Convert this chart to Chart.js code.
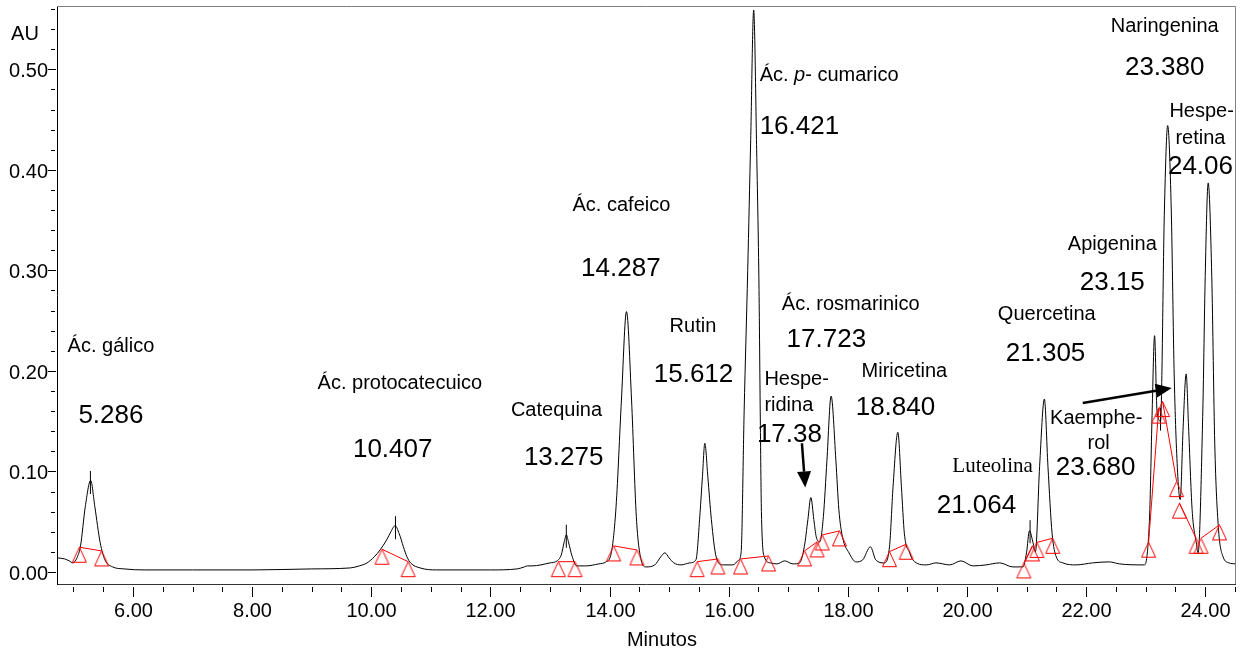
<!DOCTYPE html>
<html>
<head>
<meta charset="utf-8">
<script src="https://cdn.jsdelivr.net/npm/chart.js@4.4.1/dist/chart.umd.min.js"></script>
<style>
  html, body { margin: 0; padding: 0; background: #fff; }
  #wrap { width: 1246px; height: 656px; position: relative; }
</style>
</head>
<body>
<div id="wrap"><canvas id="chromatogram"></canvas></div>
<script>
// trace: time (min) and absorbance (AU)
var minutes = [
  4.73, 4.85, 4.93, 4.99, 5.06, 5.12, 5.20, 5.29, 5.36, 5.45, 5.53, 5.66, 5.85, 6.20, 7.00, 8.00, 9.00,
  9.65, 9.80, 9.93, 10.05, 10.15, 10.26, 10.33, 10.40, 10.47, 10.54, 10.60, 10.66, 10.82, 11.10, 12.00,
  12.45, 12.57, 12.62, 12.70, 13.00, 13.12, 13.19, 13.24, 13.275, 13.31, 13.37, 13.45, 13.60, 13.82, 13.94,
  14.03, 14.11, 14.20, 14.285, 14.37, 14.45, 14.53, 14.61, 14.76, 14.86, 14.93, 15.00, 15.08, 15.20, 15.35,
  15.45, 15.52, 15.56, 15.60, 15.65, 15.71, 15.79, 15.90, 16.07, 16.17, 16.21, 16.26, 16.32, 16.37, 16.42,
  16.47, 16.51, 16.53, 16.55, 16.60, 16.70, 16.81, 16.94, 17.08, 17.19, 17.27, 17.33, 17.38, 17.43, 17.47,
  17.53, 17.59, 17.65, 17.72, 17.80, 17.85, 17.91, 18.02, 18.14, 18.25, 18.38, 18.47, 18.61, 18.70, 18.76,
  18.84, 18.90, 18.95, 19.04, 19.09, 19.32, 19.48, 19.71, 19.90, 20.10, 20.32, 20.55, 20.77, 20.94, 21.00,
  21.05, 21.11, 21.15, 21.22, 21.30, 21.36, 21.43, 21.50, 21.61, 21.83, 22.11, 22.39, 22.56, 22.98, 23.03,
  23.07, 23.11, 23.15, 23.19, 23.25, 23.315, 23.37, 23.43, 23.48, 23.54, 23.58, 23.63, 23.68, 23.72, 23.78,
  23.85, 23.88, 23.96, 24.00, 24.05, 24.11, 24.16, 24.22, 24.30, 24.40, 24.50
];
var absorbance = [
  0.014, 0.013, 0.011, 0.009, 0.014, 0.026, 0.065, 0.091, 0.065, 0.029, 0.012, 0.005, 0.003, 0.002, 0.002, 0.002, 0.003,
  0.004, 0.006, 0.009, 0.015, 0.022, 0.032, 0.040, 0.046, 0.038, 0.025, 0.015, 0.009, 0.004, 0.002, 0.002,
  0.003, 0.005, 0.006, 0.006, 0.009, 0.011, 0.017, 0.030, 0.037, 0.030, 0.016, 0.006, 0.006, 0.008, 0.010,
  0.019, 0.065, 0.171, 0.259, 0.171, 0.055, 0.012, 0.005, 0.007, 0.015, 0.019, 0.014, 0.009, 0.007, 0.009,
  0.012, 0.059, 0.095, 0.128, 0.095, 0.052, 0.015, 0.007, 0.007, 0.012, 0.020, 0.160, 0.300, 0.430, 0.559,
  0.420, 0.280, 0.160, 0.060, 0.015, 0.009, 0.008, 0.011, 0.008, 0.009, 0.025, 0.052, 0.074, 0.052, 0.035,
  0.030, 0.055, 0.111, 0.175, 0.111, 0.062, 0.035, 0.019, 0.010, 0.012, 0.025, 0.012, 0.009, 0.025, 0.085,
  0.139, 0.085, 0.038, 0.019, 0.012, 0.007, 0.009, 0.007, 0.011, 0.006, 0.007, 0.009, 0.005, 0.005, 0.019,
  0.041, 0.029, 0.020, 0.105, 0.172, 0.105, 0.038, 0.015, 0.009, 0.007, 0.009, 0.010, 0.008, 0.007, 0.020,
  0.062, 0.161, 0.235, 0.161, 0.150, 0.360, 0.444, 0.360, 0.194, 0.095, 0.072, 0.145, 0.197, 0.145, 0.062,
  0.029, 0.019, 0.161, 0.294, 0.387, 0.294, 0.128, 0.045, 0.015, 0.009, 0.008
];

// integration baselines (start / end of each peak)
var baseStartX = [5.10, 10.18, 13.14, 14.07, 15.47, 16.20, 17.275, 17.57, 18.70, 20.955, 21.175, 23.05, 23.285, 23.567, 23.93];
var baseStartY = [0.0246, 0.0226, 0.0102, 0.0259, 0.0102, 0.0129, 0.0209, 0.0368, 0.0202, 0.009, 0.0294, 0.0296, 0.1695, 0.0684, 0.0335];
var baseEndX = [5.475, 10.62, 13.42, 14.46, 15.82, 16.67, 17.485, 17.86, 18.98, 21.10, 21.44, 23.22, 23.52, 23.847, 24.24];
var baseEndY = [0.0209, 0.0102, 0.0102, 0.0219, 0.0129, 0.0159, 0.0299, 0.0408, 0.0276, 0.0259, 0.0335, 0.163, 0.0899, 0.0335, 0.0468];

// retention time marks drawn across some apexes
var markX = [5.286, 10.407, 13.275, 21.06, 23.25];
var markY = [0.089, 0.044, 0.0355, 0.040, 0.152];

// peak annotations (compound name and retention time)
var peakLabels = [
  { text: 'Ác. gálico', x: 5.63, y: 0.224, kind: 'name' },
  { text: '5.286', x: 5.63, y: 0.155, kind: 'time' },
  { text: 'Ác. protocatecuico', x: 10.48, y: 0.187, kind: 'name' },
  { text: '10.407', x: 10.36, y: 0.121, kind: 'time' },
  { text: 'Catequina', x: 13.11, y: 0.161, kind: 'name' },
  { text: '13.275', x: 13.23, y: 0.114, kind: 'time' },
  { text: 'Ác. cafeico', x: 14.20, y: 0.365, kind: 'name' },
  { text: '14.287', x: 14.19, y: 0.302, kind: 'time' },
  { text: 'Rutin', x: 15.40, y: 0.244, kind: 'name' },
  { text: '15.612', x: 15.41, y: 0.196, kind: 'time' },
  { text: ['Ác. ', 'p', '- cumarico'], x: 16.52, y: 0.4935, kind: 'name', align: 'left' },
  { text: '16.421', x: 16.52, y: 0.443, kind: 'time', align: 'left' },
  { text: 'Ác. rosmarinico', x: 18.05, y: 0.266, kind: 'name' },
  { text: '17.723', x: 17.64, y: 0.231, kind: 'time' },
  { text: 'Hespe-', x: 16.60, y: 0.191, kind: 'name', align: 'left' },
  { text: 'ridina', x: 16.60, y: 0.166, kind: 'name', align: 'left' },
  { text: '17.38', x: 17.02, y: 0.136, kind: 'time' },
  { text: 'Miricetina', x: 18.95, y: 0.199, kind: 'name' },
  { text: '18.840', x: 18.80, y: 0.163, kind: 'time' },
  { text: 'Luteolina', x: 20.43, y: 0.1045, kind: 'serif' },
  { text: '21.064', x: 20.16, y: 0.066, kind: 'time' },
  { text: 'Quercetina', x: 21.34, y: 0.256, kind: 'name' },
  { text: '21.305', x: 21.32, y: 0.217, kind: 'time' },
  { text: 'Kaemphe-', x: 22.17, y: 0.153, kind: 'name' },
  { text: 'rol', x: 22.21, y: 0.128, kind: 'name' },
  { text: '23.680', x: 22.16, y: 0.1035, kind: 'time' },
  { text: 'Apigenina', x: 22.44, y: 0.326, kind: 'name' },
  { text: '23.15', x: 22.44, y: 0.288, kind: 'time' },
  { text: 'Naringenina', x: 23.32, y: 0.543, kind: 'name' },
  { text: '23.380', x: 23.32, y: 0.5015, kind: 'time' },
  { text: 'Hespe-', x: 23.94, y: 0.458, kind: 'name' },
  { text: 'retina', x: 23.92, y: 0.431, kind: 'name' },
  { text: '24.06', x: 23.92, y: 0.403, kind: 'time' }
];

// pointer arrows (hesperidina, kaempherol)
var arrows = [
  { from: [17.23, 0.128], to: [17.286, 0.084] },
  { from: [21.944, 0.168], to: [23.438, 0.183] }
];

var SANS = '"Liberation Sans", Arial, sans-serif';
var SERIF = '"Liberation Serif", "Times New Roman", serif';
var fonts = {
  name: '20px ' + SANS,
  italic: 'italic 20px ' + SANS,
  time: '26px ' + SANS,
  serif: '21px ' + SERIF
};

var tracePoints = minutes.map(function (m, i) { return { x: m, y: absorbance[i] }; });
var baselinePoints = [];
var limitPoints = [];
baseStartX.forEach(function (sx, i) {
  baselinePoints.push({ x: sx, y: baseStartY[i] });
  baselinePoints.push({ x: baseEndX[i], y: baseEndY[i] });
  baselinePoints.push({ x: (baseEndX[i] + (baseStartX[i + 1] || baseEndX[i])) / 2, y: null });
  limitPoints.push({ x: sx, y: baseStartY[i] });
  limitPoints.push({ x: baseEndX[i], y: baseEndY[i] });
});
var markPoints = markX.map(function (m, i) { return { x: m, y: markY[i] }; });

// hollow red triangle with its tip at the centre of the image
function triangleMarker() {
  var c = document.createElement('canvas');
  c.width = 17; c.height = 35;
  var g = c.getContext('2d');
  g.strokeStyle = '#ff0000';
  g.lineWidth = 1;
  g.beginPath();
  g.moveTo(8.5, 17.5);
  g.lineTo(1.5, 32.5);
  g.lineTo(15.5, 32.5);
  g.closePath();
  g.stroke();
  return c;
}

function isMultiple(v, step) {
  var q = v / step;
  return Math.abs(q - Math.round(q)) < 1e-6;
}

var decor = {
  id: 'decor',
  afterDraw: function (chart) {
    var ctx = chart.ctx, xs = chart.scales.x, ys = chart.scales.y, area = chart.chartArea;
    ctx.save();

    // frame top and right
    ctx.strokeStyle = '#808080';
    ctx.lineWidth = 1;
    ctx.beginPath();
    ctx.moveTo(area.left, area.top + 0.5);
    ctx.lineTo(area.right + 0.5, area.top + 0.5);
    ctx.lineTo(area.right + 0.5, area.bottom);
    ctx.stroke();

    // tick marks (long where labelled) and tick labels
    ctx.strokeStyle = '#000';
    ctx.fillStyle = '#000';
    ctx.font = fonts.name;
    ctx.beginPath();
    ctx.textAlign = 'center';
    ctx.textBaseline = 'middle';
    xs.ticks.forEach(function (t) {
      var px = Math.round(xs.getPixelForValue(t.value)) + 0.5;
      var len = t.label ? 10 : 5;
      ctx.moveTo(px, area.bottom + 3);
      ctx.lineTo(px, area.bottom + 3 + len);
      if (t.label) ctx.fillText(t.label, px, area.bottom + 27);
    });
    ctx.textAlign = 'right';
    ys.ticks.forEach(function (t) {
      var py = Math.round(ys.getPixelForValue(t.value)) + 0.5;
      if (t.label) {
        ctx.moveTo(area.left - 9, py); ctx.lineTo(area.left - 1, py);
        ctx.fillText(t.label, area.left - 9, py + 1.5);
      } else {
        ctx.moveTo(area.left - 6, py); ctx.lineTo(area.left - 2, py);
      }
    });
    ctx.stroke();

    // arrows
    ctx.lineWidth = 2.5;
    arrows.forEach(function (a) {
      var x1 = xs.getPixelForValue(a.from[0]), y1 = ys.getPixelForValue(a.from[1]);
      var x2 = xs.getPixelForValue(a.to[0]), y2 = ys.getPixelForValue(a.to[1]);
      var ang = Math.atan2(y2 - y1, x2 - x1);
      var hl = 16, hw = 7;
      var bx = x2 - Math.cos(ang) * hl, by = y2 - Math.sin(ang) * hl;
      ctx.beginPath();
      ctx.moveTo(x1, y1);
      ctx.lineTo(bx, by);
      ctx.stroke();
      ctx.beginPath();
      ctx.moveTo(x2, y2);
      ctx.lineTo(bx + Math.sin(ang) * hw, by - Math.cos(ang) * hw);
      ctx.lineTo(bx - Math.sin(ang) * hw, by + Math.cos(ang) * hw);
      ctx.closePath();
      ctx.fill();
    });

    // peak labels
    peakLabels.forEach(function (l) {
      var px = xs.getPixelForValue(l.x), py = ys.getPixelForValue(l.y);
      if (Array.isArray(l.text)) {
        ctx.textAlign = 'left';
        var cx = px;
        l.text.forEach(function (part, k) {
          ctx.font = k === 1 ? fonts.italic : fonts.name;
          ctx.fillText(part, cx, py);
          cx += ctx.measureText(part).width;
        });
        return;
      }
      ctx.font = fonts[l.kind];
      ctx.textAlign = l.align || 'center';
      ctx.fillText(l.text, px, py);
    });

    // axis titles
    ctx.font = fonts.name;
    ctx.textAlign = 'center';
    ctx.fillText('AU', area.left - 32, ys.getPixelForValue(0.535));
    ctx.fillText('Minutos', xs.getPixelForValue(14.88), xs.bottom - 16);
    ctx.restore();
  }
};

new Chart(document.getElementById('chromatogram'), {
  type: 'scatter',
  data: {
    datasets: [
      { label: 'limits', data: limitPoints, pointStyle: triangleMarker(), pointRadius: 8, showLine: false, order: 0 },
      { label: 'baseline', data: baselinePoints, showLine: true, spanGaps: false, borderColor: '#ff0000', borderWidth: 1, pointRadius: 0, order: 1 },
      { label: 'marks', data: markPoints, showLine: false, pointStyle: 'line', pointRotation: 90, pointRadius: 11.5,
        pointBorderColor: '#000', pointBorderWidth: 1, order: 2 },
      { label: 'trace', data: tracePoints, showLine: true, borderColor: '#000', borderWidth: 1, pointRadius: 0,
        cubicInterpolationMode: 'monotone', order: 3 }
    ]
  },
  options: {
    responsive: true,
    maintainAspectRatio: false,
    animation: false,
    events: [],
    layout: { autoPadding: false, padding: { left: 0, top: 6, right: 11, bottom: 0 } },
    plugins: { legend: { display: false }, tooltip: { enabled: false } },
    scales: {
      x: {
        type: 'linear',
        min: 4.725,
        max: 24.5,
        border: { display: true, color: '#333', width: 1 },
        grid: { drawOnChartArea: false, drawTicks: false },
        ticks: {
          display: false, stepSize: 0.5, autoSkip: false, includeBounds: false,
          callback: function (v) { return isMultiple(v, 2) ? v.toFixed(2) : ''; }
        },
        afterFit: function (s) { s.height = 72; }
      },
      y: {
        type: 'linear',
        min: -0.012,
        max: 0.563,
        border: { display: true, color: '#000', width: 1 },
        grid: { drawOnChartArea: false, drawTicks: false },
        ticks: {
          display: false, stepSize: 0.02, autoSkip: false, includeBounds: false,
          callback: function (v) { return isMultiple(v, 0.1) ? v.toFixed(2) : ''; }
        },
        afterFit: function (s) { s.width = 57; }
      }
    }
  },
  plugins: [decor]
});
</script>
</body>
</html>
